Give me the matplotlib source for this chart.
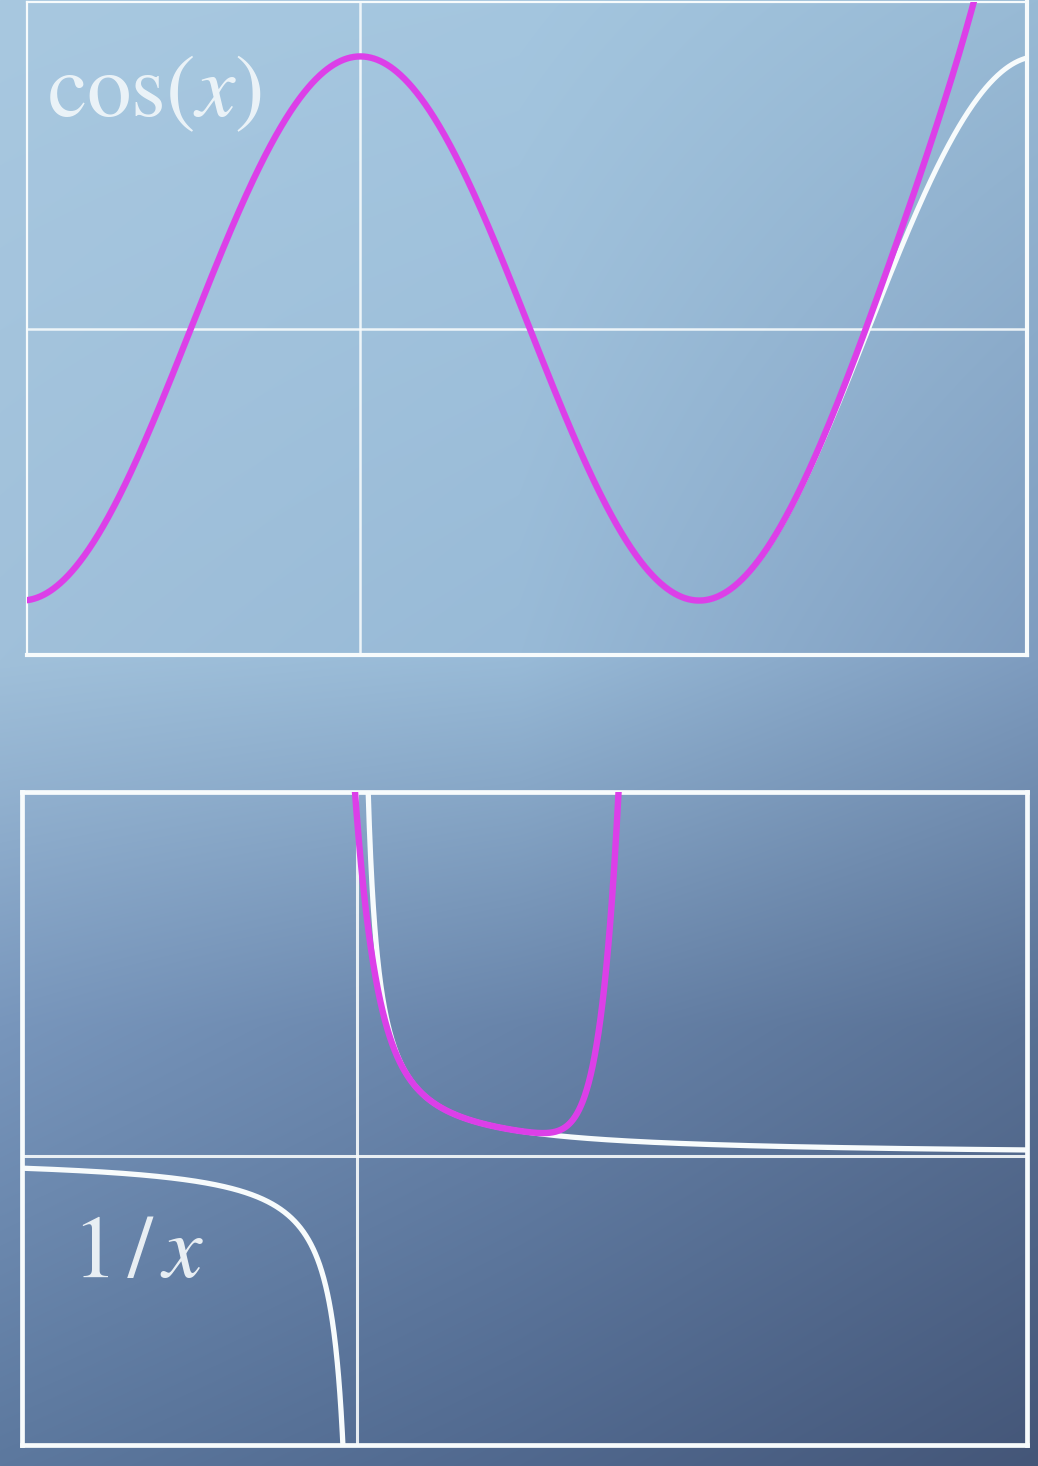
import numpy as np
import matplotlib
matplotlib.use("Agg")
import matplotlib.pyplot as plt
from math import factorial

plt.rcParams['mathtext.fontset'] = 'stix'

# --- data -------------------------------------------------------------
x_range = (-3.09, 6.18)                 # both panels share the same x window
cos_ylim = (-1.2, 1.2)
inv_ylim = (-7.7, 9.7)

cos_degree = 12                         # Taylor polynomial of cos(x) about 0
inv_center = 1.0                        # Taylor polynomial of 1/x about 1
inv_degree = 8

cos_label = r'$\cos(x)$'
inv_label = r'$1\,/\,x$'

# background colour grid (rows top -> bottom, cols left -> right)
bg_rows = [0.0, 0.45, 0.7, 1.0]
bg_cols = [0.0, 0.5, 1.0]
bg_colors = np.array([
    [[168, 200, 224], [164, 198, 223], [152, 186, 213]],
    [[160, 192, 218], [152, 186, 215], [126, 156, 191]],
    [[120, 150, 188], [104, 132, 170], [88, 112, 148]],
    [[92, 120, 158], [80, 104, 142], [68, 86, 120]],
]) / 255.0

WHITE = '#f7fbfc'
MAGENTA = '#dc3fe8'

# --- curves -----------------------------------------------------------
cos_coeffs = [(-1) ** (k // 2) / factorial(k) if k % 2 == 0 else 0.0
              for k in range(cos_degree + 1)]
inv_coeffs = [(-1) ** k / inv_center ** (k + 1) for k in range(inv_degree + 1)]

x_cos = np.linspace(*x_range, 1500)
y_cos = np.cos(x_cos)
y_cos_taylor = np.polyval(cos_coeffs[::-1], x_cos)

x_neg = np.linspace(x_range[0], -0.04, 800)
x_pos = np.linspace(0.04, x_range[1], 1500)
x_inv_taylor = np.linspace(-0.3, 2.7, 1500)
y_inv_taylor = np.polyval(inv_coeffs[::-1], x_inv_taylor - inv_center)

# --- figure -----------------------------------------------------------
W, H = 1038, 1466
fig = plt.figure(figsize=(W / 100, H / 100), dpi=100)

# gradient background
ys = np.linspace(0, 1, H)
xs = np.linspace(0, 1, W)
img = np.zeros((H, W, 3))
for c in range(3):
    rows = np.array([np.interp(xs, bg_cols, bg_colors[r, :, c]) for r in range(len(bg_rows))])
    for j in range(W):
        img[:, j, c] = np.interp(ys, bg_rows, rows[:, j])
bg = fig.add_axes([0, 0, 1, 1], zorder=-10)
bg.imshow(img, aspect='auto', extent=[0, 1, 0, 1], origin='upper')
bg.axis('off')


def panel(rect, ylim, thin_sides, thick_w, thin_w, axis_w):
    ax = fig.add_axes(rect)
    ax.set_facecolor('none')
    ax.set_xlim(*x_range)
    ax.set_ylim(*ylim)
    ax.set_xticks([])
    ax.set_yticks([])
    for side, sp in ax.spines.items():
        sp.set_color(WHITE)
        sp.set_linewidth(thin_w if side in thin_sides else thick_w)
    ax.axhline(0, color=WHITE, lw=axis_w, alpha=0.9, zorder=1)
    ax.axvline(0, color=WHITE, lw=axis_w, alpha=0.9, zorder=1)
    return ax


# top panel: cos(x)
ax1 = panel([27 / W, 1 - 655 / H, 1000 / W, 653 / H], cos_ylim,
            thin_sides=('left', 'top'), thick_w=3.0, thin_w=1.6, axis_w=1.8)
ax1.plot(x_cos, y_cos, color=WHITE, lw=3.6, zorder=2, solid_capstyle='round')
ax1.plot(x_cos, y_cos_taylor, color=MAGENTA, lw=4.6, zorder=3, solid_capstyle='round')
ax1.text(0.02, 0.862, cos_label, transform=ax1.transAxes, color=WHITE,
         alpha=0.85, fontsize=64, ha='left', va='center')

# bottom panel: 1/x
ax2 = panel([22 / W, 1 - 1445 / H, 1005 / W, 653 / H], inv_ylim,
            thin_sides=(), thick_w=3.4, thin_w=3.4, axis_w=2.2)
ax2.plot(x_neg, 1 / x_neg, color=WHITE, lw=3.8, zorder=2)
ax2.plot(x_pos, 1 / x_pos, color=WHITE, lw=3.8, zorder=2)
ax2.plot(x_inv_taylor, y_inv_taylor, color=MAGENTA, lw=4.6, zorder=3)
ax2.text(0.05, 0.295, inv_label, transform=ax2.transAxes, color=WHITE,
         alpha=0.9, fontsize=64, ha='left', va='center')

fig.savefig('out.png', dpi=100)
